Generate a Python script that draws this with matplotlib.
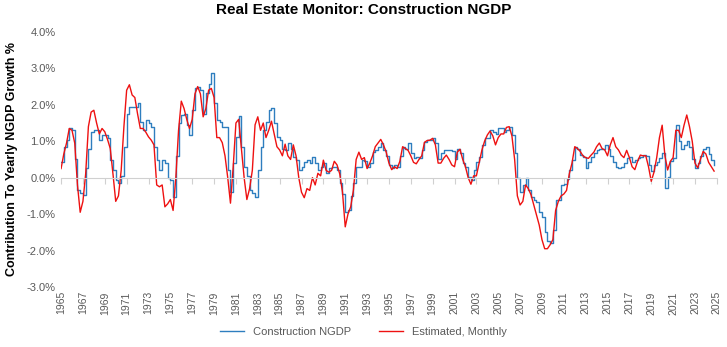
import numpy as np
import matplotlib
matplotlib.use("Agg")
import matplotlib.pyplot as plt
from matplotlib.ticker import FuncFormatter

plt.rcParams['font.family'] = ['Liberation Sans Narrow', 'Liberation Sans', 'DejaVu Sans']

# quarterly values, 1965Q1 .. 2024Q4 (4 per row = one year)
construction_ngdp = [
    0.44, 0.85, 1.03, 1.35,   # 1965
    1.30, 0.50, -0.34, -0.43,
    -0.47, 0.26, 0.80, 1.26,
    1.30, 1.30, 1.03, 1.17,
    1.17, 1.10, 0.48, 0.20,
    -0.06, -0.15, 0.05, 0.85,  # 1970
    1.76, 1.93, 1.95, 1.95,
    2.05, 1.53, 1.30, 1.58,
    1.50, 1.40, 0.85, 0.48,
    0.21, 0.48, 0.39, 0.00,
    -0.06, -0.52, 0.60, 1.49,  # 1975
    1.72, 1.76, 1.44, 1.17,
    1.85, 2.45, 2.50, 2.40,
    1.76, 2.31, 2.58, 2.86,
    2.04, 1.58, 1.53, 1.40,
    1.38, 0.20, -0.38, 0.40,   # 1980
    1.12, 1.70, 0.85, 0.30,
    0.05, -0.34, -0.43, -0.52,
    0.20, 0.85, 1.30, 1.53,
    1.85, 1.92, 1.49, 1.12,
    1.03, 0.80, 0.76, 0.94,    # 1985
    0.80, 0.58, 0.48, 0.21,
    0.30, 0.44, 0.48, 0.39,
    0.58, 0.39, 0.20, 0.30,
    0.39, 0.12, 0.26, 0.30,
    0.30, 0.21, -0.15, -0.45,  # 1990
    -0.93, -0.90, -0.50, -0.15,
    0.30, 0.30, 0.48, 0.45,
    0.30, 0.39, 0.71, 0.76,
    0.85, 0.94, 0.76, 0.60,
    0.35, 0.26, 0.35, 0.30,    # 1995
    0.60, 0.85, 0.80, 0.94,
    0.67, 0.53, 0.58, 0.53,
    0.76, 0.99, 1.03, 1.03,
    1.08, 0.94, 0.50, 0.67,
    0.76, 0.76, 0.76, 0.72,    # 2000
    0.50, 0.80, 0.67, 0.39,
    0.30, 0.03, -0.06, 0.20,
    0.44, 0.58, 0.90, 1.08,
    1.08, 1.30, 1.26, 1.21,
    1.35, 1.35, 1.26, 1.30,    # 2005
    1.40, 1.17, 0.67, 0.00,
    -0.38, -0.20, 0.00, -0.34,
    -0.52, -0.61, -0.68, -0.93,
    -1.07, -1.50, -1.75, -1.80,
    -1.43, -0.61, -0.61, -0.20,  # 2010
    -0.18, -0.05, 0.21, 0.48,
    0.85, 0.80, 0.62, 0.58,
    0.26, 0.44, 0.58, 0.67,
    0.76, 0.80, 0.80, 0.90,
    0.80, 0.60, 0.44, 0.30,    # 2015
    0.26, 0.30, 0.39, 0.55,
    0.58, 0.44, 0.48, 0.53,
    0.58, 0.62, 0.60, 0.35,
    0.18, 0.35, 0.44, 0.55,
    0.67, -0.29, 0.03, 0.45,   # 2020
    0.55, 1.44, 1.00, 0.80,
    0.90, 1.00, 0.85, 0.50,
    0.26, 0.39, 0.60, 0.78,
    0.85, 0.65, 0.48, 0.35,
]

estimated_monthly = [
    0.25, 0.65, 0.95, 1.35,    # 1965
    1.30, 0.95, -0.20, -0.95,
    -0.65, 0.10, 1.40, 1.80,
    1.85, 1.50, 1.20, 1.35,
    1.26, 1.05, 0.80, 0.10,
    -0.65, -0.50, 0.20, 1.40,  # 1970
    2.40, 2.55, 2.27, 2.20,
    1.75, 1.35, 1.35, 1.25,
    1.12, 1.03, 0.90, -0.20,
    -0.25, -0.20, -0.80, -0.72,
    -0.60, -0.90, 0.00, 1.30,  # 1975
    2.10, 1.90, 1.60, 1.35,
    1.60, 2.30, 2.50, 2.30,
    1.67, 1.90, 2.40, 2.45,
    2.20, 1.10, 1.10, 0.96,
    0.60, 0.00, -0.70, 0.30,   # 1980
    1.50, 1.60, 0.80, 0.00,
    -0.60, -0.30, 0.20, 1.45,
    1.67, 1.30, 1.50, 1.10,
    1.30, 1.55, 1.20, 0.85,
    0.76, 0.60, 0.92, 0.60,    # 1985
    0.50, 0.90, 0.60, 0.00,
    -0.40, -0.55, -0.30, -0.35,
    0.00, -0.20, 0.12, 0.05,
    0.48, 0.20, 0.15, 0.20,
    0.45, 0.35, 0.10, -0.40,   # 1990
    -1.35, -1.00, -0.80, -0.34,
    0.50, 0.70, 0.50, 0.55,
    0.25, 0.40, 0.60, 0.85,
    0.95, 1.05, 0.90, 0.70,
    0.40, 0.22, 0.30, 0.25,    # 1995
    0.45, 0.85, 0.80, 0.75,
    0.60, 0.42, 0.38, 0.50,
    0.60, 0.97, 1.02, 1.03,
    1.08, 0.90, 0.40, 0.40,
    0.53, 0.62, 0.50, 0.35,    # 2000
    0.30, 0.70, 0.78, 0.50,
    0.30, 0.00, -0.18, 0.05,
    0.05, 0.40, 0.75, 1.00,
    1.17, 1.28, 1.15, 0.90,
    1.10, 1.20, 1.20, 1.38,    # 2005
    1.40, 1.15, 0.50, -0.50,
    -0.75, -0.65, -0.20, -0.30,
    -0.47, -0.75, -1.02, -1.30,
    -1.70, -1.95, -1.95, -1.84,
    -1.70, -0.90, -0.65, -0.50,  # 2010
    -0.45, -0.35, 0.10, 0.40,
    0.85, 0.80, 0.72, 0.60,
    0.55, 0.53, 0.62, 0.70,
    0.85, 0.95, 0.80, 0.76,
    0.60, 0.90, 1.10, 0.85,    # 2015
    0.76, 0.62, 0.55, 0.75,
    0.55, 0.30, 0.22, 0.45,
    0.62, 0.60, 0.60, 0.30,
    -0.10, 0.15, 0.55, 1.10,
    1.44, 0.60, 0.21, 0.45,    # 2020
    0.55, 1.30, 1.30, 1.10,
    1.44, 1.72, 1.40, 1.00,
    0.40, 0.27, 0.50, 0.72,
    0.65, 0.42, 0.30, 0.18,
]

years = np.arange(1965, 2025, 0.25)
tick_years = list(range(1965, 2026, 2))

fig = plt.figure(figsize=(7.27, 3.47), dpi=100)
ax = fig.add_axes([0.084, 0.173, 0.902, 0.735])

ax.plot(years, construction_ngdp, color='#2e7ebf', lw=1.0, drawstyle='steps-post',
        label='Construction NGDP')
ax.plot(years, estimated_monthly, color='#ee1111', lw=1.0, label='Estimated, Monthly')

ax.set_xlim(1965, 2025)
ax.set_ylim(-3, 4)
ax.set_yticks(np.arange(-3, 4.1, 1))
ax.yaxis.set_major_formatter(FuncFormatter(lambda v, p: f'{v:.1f}%'))
ax.tick_params(axis='y', length=0, labelsize=8, labelcolor='#595959', pad=4)

for s in ['top', 'right', 'left']:
    ax.spines[s].set_visible(False)
ax.spines['bottom'].set_position(('data', 0))
ax.spines['bottom'].set_color('#d0d0d0')
ax.set_xticks(tick_years)
ax.tick_params(axis='x', length=4, color='#d0d0d0', labelbottom=False)

sec = ax.secondary_xaxis(0)
sec.set_xticks(tick_years)
sec.set_xticklabels([str(y) for y in tick_years], rotation=90)
sec.tick_params(length=0, labelsize=7.5, labelcolor='#595959', pad=3)
sec.spines['bottom'].set_visible(False)

ax.set_ylabel('Contribution To Yearly NGDP Growth %', fontsize=9, fontweight='bold',
              color='black', labelpad=6)
fig.suptitle('Real Estate Monitor: Construction NGDP', fontsize=11, fontweight='bold',
             y=0.99)

fig.legend(loc='lower center', bbox_to_anchor=(0.5, 0.0), ncol=2, frameon=False,
           fontsize=8, labelcolor='#595959', handlelength=2.2, columnspacing=2.5)

fig.savefig('out.png', dpi=100)
